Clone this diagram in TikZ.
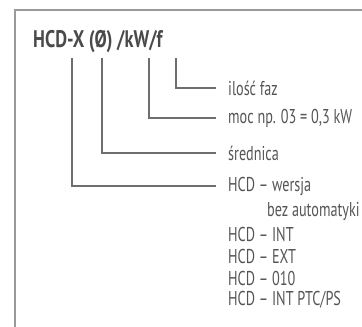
\documentclass[tikz,border=0pt]{standalone}
\usepackage{fontspec}
\newfontfamily\titlefont[FakeStretch=0.76]{PT Sans}
\newfontfamily\labelfont[FakeStretch=0.71]{PT Sans}
\definecolor{framegray}{HTML}{9A9A9A}
\definecolor{linegray}{HTML}{6E6E6E}
\definecolor{textgray}{HTML}{4A4A4A}
\definecolor{labelgray}{HTML}{555555}
\begin{document}
\begin{tikzpicture}[x=1pt,y=-1pt,
  frameline/.style={draw=framegray,line width=1.1pt},
  leader/.style={draw=linegray,line width=2pt},
  lbl/.style={anchor=west,inner sep=0pt,text=labelgray,font=\labelfont\fontsize{20}{20}\selectfont},
  ttl/.style={anchor=base west,inner sep=0pt,text=textgray,font=\titlefont\bfseries\fontsize{24}{24}\selectfont}]
\useasboundingbox (0,0) rectangle (362,327);
\coordinate (ftl) at (15,10);
\coordinate (ftr) at (362,10);
\coordinate (fbl) at (15,327);
\draw[frameline] (ftr) -- (ftl) -- (fbl);
\node[ttl] (title) at (33,47) {HCD-X (Ø) /kW/f};
% top ends of leaders
\coordinate (t1) at (176,58);
\coordinate (t2) at (149,58);
\coordinate (t3) at (102,58);
\coordinate (t4) at (72,58);
% labels
\node[lbl] (l1) at (228,88) {ilość faz};
\node[lbl] (l2) at (228,118) {moc np. 03 = 0,3 kW};
\node[lbl] (l3) at (228,153) {średnica};
\node[lbl] (l4) at (228,186) {HCD – wersja};
\node[lbl] (l5) at (267,211) {bez automatyki};
\node[lbl] (l6) at (228,234) {HCD – INT};
\node[lbl] (l7) at (228,256) {HCD – EXT};
\node[lbl] (l8) at (228,278) {HCD – 010};
\node[lbl] (l9) at (228,300) {HCD – INT PTC/PS};
\draw[leader] (t1) |- ([xshift=-12pt]l1.west);
\draw[leader] (t2) |- ([xshift=-12pt]l2.west);
\draw[leader] (t3) |- ([xshift=-12pt]l3.west);
\draw[leader] (t4) |- ([xshift=-12pt]l4.west);
\end{tikzpicture}
\end{document}
